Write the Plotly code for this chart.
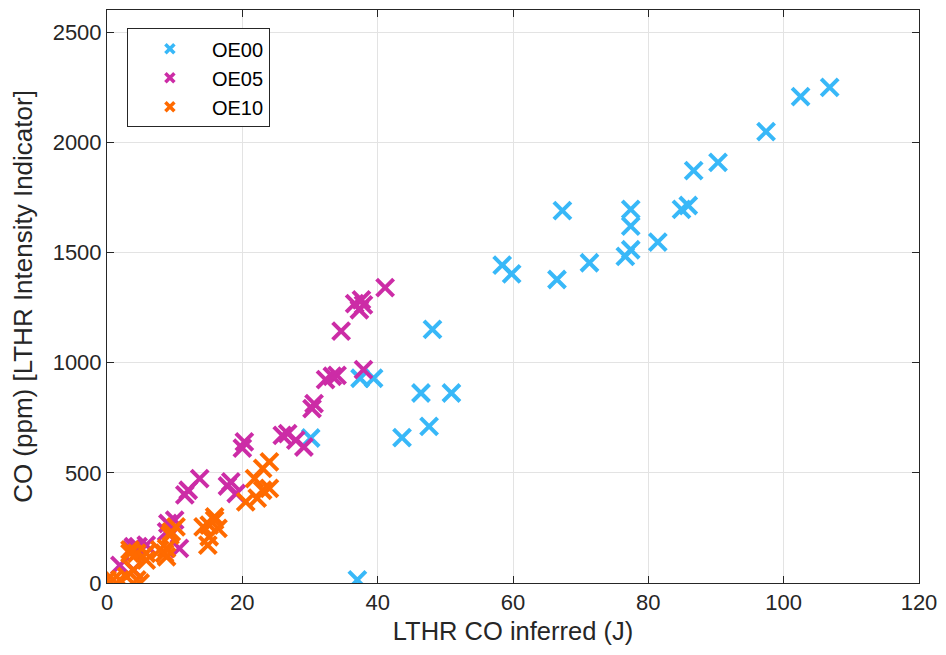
import plotly.graph_objects as go

# LTHR CO inferred (J) vs CO (ppm), three equivalence ratios
oe00_x = [106.8, 102.5, 97.4, 90.3, 86.7, 85.9, 84.9, 81.4, 77.4, 77.4, 77.4,
          76.6, 71.3, 67.3, 66.5, 59.8, 58.4, 50.9, 48.1, 46.4, 47.6, 43.6,
          39.4, 37.4, 30.1, 37.0]
oe00_y = [2249, 2207, 2048, 1909, 1871, 1713, 1695, 1547, 1695, 1619, 1512,
          1482, 1453, 1690, 1377, 1403, 1442, 862, 1151, 862, 711, 660,
          929, 929, 658, 14]

oe05_x = [41.1, 37.6, 36.6, 37.9, 37.3, 34.6, 37.9, 34.0, 33.3, 32.3, 30.6,
          30.3, 26.7, 25.9, 27.9, 29.1, 20.0, 20.3, 18.3, 17.8, 19.1, 13.7,
          12.0, 11.5, 10.0, 9.0, 8.8, 10.7, 3.9, 4.6, 5.8, 3.6, 1.9, 3.9]
oe05_y = [1340, 1285, 1268, 1262, 1240, 1143, 968, 942, 938, 923, 814,
          791, 678, 670, 648, 617, 612, 640, 459, 440, 406, 474,
          421, 400, 285, 270, 232, 157, 165, 165, 172, 150, 80, 59]

oe10_x = [23.0, 24.0, 21.8, 20.5, 24.0, 23.0, 22.2, 15.9, 15.1, 16.4, 15.1,
          14.2, 15.9, 14.9, 10.2, 9.3, 9.5, 8.8, 8.8, 8.5, 7.8, 4.4, 3.4,
          5.8, 3.9, 2.9, 0.9, 0.0, 1.9, 4.4, 4.9, 5.8, 3.4]
oe10_y = [520, 550, 474, 368, 429, 421, 385, 300, 263, 248, 210,
          255, 285, 172, 255, 217, 232, 157, 119, 135, 150, 135, 150,
          104, 59, 29, 14, 14, 14, 14, 0, 135, 135]

series = [
    ("OE00", oe00_x, oe00_y, "#38B8F8"),
    ("OE05", oe05_x, oe05_y, "#CC2CA6"),
    ("OE10", oe10_x, oe10_y, "#FF6A00"),
]

FONT = "Liberation Sans, Arial, Helvetica, sans-serif"
AXC = "#262626"

fig = go.Figure()
for name, xs, ys, col in series:
    fig.add_trace(go.Scatter(
        x=xs, y=ys, mode="markers", name=name, legendgroup=name,
        showlegend=False,
        marker=dict(symbol="x-thin", size=17, color=col,
                    line=dict(color=col, width=4)),
    ))
# smaller legend glyphs, one legend entry per series
for name, xs, ys, col in series:
    fig.add_trace(go.Scatter(
        x=[None], y=[None], mode="markers", name=name, legendgroup=name,
        marker=dict(symbol="x-thin", size=9, color=col,
                    line=dict(color=col, width=3.5)),
    ))

axis_common = dict(
    showgrid=True, gridcolor="#E3E3E3", gridwidth=1,
    showline=True, linecolor=AXC, linewidth=1, mirror="ticks",
    ticks="inside", ticklen=7, tickcolor=AXC, tickwidth=1,
    zeroline=False, tickfont=dict(family=FONT, size=22, color=AXC),
)

fig.update_xaxes(range=[0, 120], tickvals=[0, 20, 40, 60, 80, 100, 120],
                 title=dict(text="LTHR CO inferred (J)",
                            font=dict(family=FONT, size=25.5, color=AXC),
                            standoff=7),
                 **axis_common)
fig.update_yaxes(range=[0, 2600], tickvals=[0, 500, 1000, 1500, 2000, 2500],
                 title=dict(text="CO (ppm) [LTHR Intensity Indicator]",
                            font=dict(family=FONT, size=26, color=AXC),
                            standoff=12),
                 **axis_common)

fig.update_layout(
    width=946, height=655,
    margin=dict(l=107, r=22, t=9, b=72),
    paper_bgcolor="white", plot_bgcolor="white",
    font=dict(family=FONT, color=AXC),
    legend=dict(
        x=0.0245, y=0.968, xanchor="left", yanchor="top",
        bgcolor="white", bordercolor=AXC, borderwidth=1,
        font=dict(family=FONT, size=20, color="#000000"),
        itemwidth=74, tracegroupgap=0,
    ),
    showlegend=True,
)

fig.write_html("out.html")
